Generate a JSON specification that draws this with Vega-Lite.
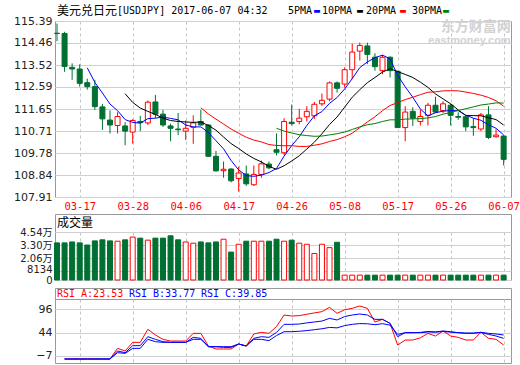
{
"$schema": "https://vega.github.io/schema/vega-lite/v6.json",
"background": "white",
"padding": {"left": 13, "top": 0, "right": 0, "bottom": 0},
"bounds": "flush",
"spacing": 0,
"resolve": {"scale": {"x": "shared"}},
"config": {
  "font": "DejaVu Sans",
  "view": {"stroke": "#999999"},
  "axis": {"labelFont": "DejaVu Sans", "labelFontSize": 11, "labelColor": "#222222", "ticks": false, "domain": false, "labelOverlap": false},
  "text": {"align": "left", "baseline": "middle", "font": "DejaVu Sans Mono", "fontSize": 10}
},
"datasets": {
"k": [
{"d":"03-14","o":114.87,"h":115.28,"l":114.53,"c":114.86,"dir":"down","v":35100},
{"d":"03-15","o":114.86,"h":114.93,"l":113.23,"c":113.46,"dir":"down","v":35100,"ra":-13.7,"rb":-13.7,"rc":-13.7},
{"d":"03-16","o":113.42,"h":113.59,"l":112.89,"c":113.35,"dir":"down","v":36000,"ra":-13.7,"rb":-13.7,"rc":-13.7},
{"d":"03-17","o":113.35,"h":113.55,"l":112.60,"c":112.74,"dir":"down","v":35100,"ra":-13.7,"rb":-13.7,"rc":-13.7},
{"d":"03-20","o":112.77,"h":112.94,"l":112.47,"c":112.60,"dir":"down","v":33100,"m5":113.40,"ra":-13.7,"rb":-13.7,"rc":-13.7},
{"d":"03-21","o":112.60,"h":112.89,"l":111.61,"c":111.75,"dir":"down","v":37000,"m5":112.78,"ra":-13.7,"rb":-13.7,"rc":-13.7},
{"d":"03-22","o":111.74,"h":111.87,"l":110.76,"c":111.23,"dir":"down","v":38000,"m5":112.33,"ra":-13.7,"rb":-13.7,"rc":-13.7},
{"d":"03-23","o":111.18,"h":111.59,"l":110.61,"c":110.97,"dir":"down","v":37000,"m5":111.86,"ra":-13.7,"rb":-13.7,"rc":-13.7},
{"d":"03-24","o":110.95,"h":111.51,"l":110.61,"c":111.33,"dir":"up","v":36700,"m5":111.58,"ra":9.8,"rb":4,"rc":0.3},
{"d":"03-27","o":110.93,"h":111.09,"l":110.11,"c":110.71,"dir":"down","v":38000,"m5":111.20,"m10":112.30,"ra":4,"rb":0.3,"rc":-1.2},
{"d":"03-28","o":110.67,"h":111.22,"l":110.18,"c":111.16,"dir":"up","v":40600,"m5":111.08,"m10":111.93,"ra":23.1,"rb":15.7,"rc":9.8},
{"d":"03-29","o":111.12,"h":111.36,"l":110.71,"c":111.07,"dir":"down","v":39600,"m5":111.05,"m10":111.69,"ra":23.1,"rb":15.7,"rc":9.8},
{"d":"03-30","o":111.06,"h":112.01,"l":110.97,"c":111.94,"dir":"up","v":37700,"m5":111.24,"m10":111.55,"ra":51.8,"rb":35.6,"rc":29.7},
{"d":"03-31","o":111.95,"h":112.25,"l":111.26,"c":111.43,"dir":"down","v":39600,"m5":111.26,"m10":111.42,"ra":39.3,"rb":29.7,"rc":24.5},
{"d":"04-03","o":111.43,"h":111.61,"l":110.89,"c":110.97,"dir":"down","v":39600,"m5":111.31,"m10":111.26,"ra":29.7,"rb":24.5,"rc":23.1},
{"d":"04-04","o":110.93,"h":111.03,"l":110.28,"c":110.83,"dir":"down","v":41800,"m5":111.25,"m10":111.16,"ra":26,"rb":23.1,"rc":23.1},
{"d":"04-05","o":110.80,"h":111.48,"l":110.54,"c":110.77,"dir":"down","v":38000,"m5":111.19,"m10":111.12,"ra":26,"rb":23.1,"rc":23.1},
{"d":"04-06","o":110.71,"h":111.16,"l":110.33,"c":110.83,"dir":"up","v":36000,"m5":110.97,"m10":111.10,"ra":26,"rb":23.1,"rc":23.1},
{"d":"04-07","o":110.87,"h":111.38,"l":110.17,"c":111.06,"dir":"up","v":34800,"m5":110.89,"m10":111.08,"ra":42.9,"rb":34.1,"rc":29.7},
{"d":"04-10","o":111.12,"h":111.61,"l":110.95,"c":110.97,"dir":"down","v":36000,"m5":110.89,"m10":111.10,"m20":111.70,"ra":42.9,"rb":31.9,"rc":29.7},
{"d":"04-11","o":110.97,"h":111.00,"l":109.61,"c":109.64,"dir":"down","v":35100,"m5":110.65,"m10":110.95,"m20":111.44,"ra":15,"rb":13.5,"rc":13.5},
{"d":"04-12","o":109.64,"h":109.87,"l":108.99,"c":109.02,"dir":"down","v":36000,"m5":110.30,"m10":110.75,"m20":111.22,"ra":8.4,"rb":13.5,"rc":13.5},
{"d":"04-13","o":109.03,"h":109.42,"l":108.73,"c":109.09,"dir":"up","v":38600,"m5":109.96,"m10":110.46,"m20":111.01,"ra":8.4,"rb":13.5,"rc":12},
{"d":"04-14","o":109.10,"h":109.13,"l":108.53,"c":108.60,"dir":"down","v":26400,"m5":109.46,"m10":110.18,"m20":110.80,"ra":8.4,"rb":13.5,"rc":12},
{"d":"04-17","o":108.70,"h":109.20,"l":108.14,"c":108.93,"dir":"up","v":33800,"m5":109.06,"m10":109.97,"m20":110.62,"ra":19.4,"rb":19.4,"rc":19.4},
{"d":"04-18","o":108.89,"h":109.25,"l":108.38,"c":108.47,"dir":"down","v":36700,"m5":108.82,"m10":109.74,"m20":110.45,"ra":15,"rb":15,"rc":15},
{"d":"04-19","o":108.43,"h":109.25,"l":108.38,"c":108.87,"dir":"up","v":36700,"m5":108.79,"m10":109.55,"m20":110.33,"ra":41.5,"rb":31.9,"rc":29.7},
{"d":"04-20","o":108.87,"h":109.46,"l":108.73,"c":109.32,"dir":"up","v":36700,"m5":108.84,"m10":109.40,"m20":110.25,"ra":45.2,"rb":35.6,"rc":29.7},
{"d":"04-21","o":109.31,"h":109.42,"l":109.09,"c":109.15,"dir":"down","v":36700,"m5":108.95,"m10":109.21,"m20":110.14,"ra":42.9,"rb":34.1,"rc":26.8},
{"d":"04-24","o":109.92,"h":110.61,"l":109.68,"c":109.81,"dir":"down","v":38600,"m5":109.12,"m10":109.09,"m20":110.10,"m30":110.83,"ra":58,"rb":45,"rc":38},
{"d":"04-25","o":109.79,"h":111.26,"l":109.68,"c":111.12,"dir":"up","v":36700,"m5":109.65,"m10":109.24,"m20":110.09,"m30":110.71,"ra":83.4,"rb":62.8,"rc":46.6},
{"d":"04-26","o":111.09,"h":111.84,"l":110.95,"c":111.03,"dir":"down","v":37700,"m5":110.09,"m10":109.44,"m20":110.09,"m30":110.63,"ra":81.2,"rb":62.8,"rc":46.6},
{"d":"04-27","o":111.12,"h":111.66,"l":111.00,"c":111.26,"dir":"up","v":34800,"m5":110.47,"m10":109.66,"m20":110.06,"m30":110.56,"ra":82,"rb":63.5,"rc":47.5},
{"d":"04-28","o":111.32,"h":111.77,"l":111.12,"c":111.55,"dir":"up","v":33800,"m5":110.95,"m10":109.95,"m20":110.06,"m30":110.52,"ra":85,"rb":66,"rc":49},
{"d":"05-02","o":111.36,"h":111.95,"l":111.23,"c":111.85,"dir":"up","v":25100,"m5":111.36,"m10":110.24,"m20":110.11,"m30":110.49,"ra":88,"rb":68,"rc":51},
{"d":"05-03","o":111.87,"h":112.31,"l":111.78,"c":112.02,"dir":"up","v":33800,"m5":111.54,"m10":110.60,"m20":110.17,"m30":110.50,"ra":90.8,"rb":70,"rc":53},
{"d":"05-04","o":112.07,"h":112.82,"l":111.98,"c":112.76,"dir":"up","v":30600,"m5":111.89,"m10":110.99,"m20":110.27,"m30":110.55,"ra":100.3,"rb":76,"rc":56},
{"d":"05-05","o":112.76,"h":112.82,"l":112.35,"c":112.53,"dir":"down","v":35700,"m5":112.14,"m10":111.31,"m20":110.35,"m30":110.60,"ra":87.1,"rb":72.4,"rc":55},
{"d":"05-08","o":112.71,"h":113.42,"l":112.56,"c":113.32,"dir":"up","v":4600,"m5":112.50,"m10":111.73,"m20":110.47,"m30":110.67,"ra":95,"rb":80,"rc":60},
{"d":"05-09","o":113.32,"h":114.43,"l":112.92,"c":114.07,"dir":"up","v":4600,"m5":112.94,"m10":112.15,"m20":110.62,"m30":110.78,"ra":98.1,"rb":83.4,"rc":62.8},
{"d":"05-10","o":114.11,"h":114.47,"l":113.71,"c":114.35,"dir":"up","v":4600,"m5":113.41,"m10":112.47,"m20":110.86,"m30":110.89,"ra":103.3,"rb":85.6,"rc":64.5},
{"d":"05-11","o":114.33,"h":114.47,"l":113.56,"c":113.97,"dir":"down","v":4600,"m5":113.65,"m10":112.77,"m20":111.10,"m30":110.98,"ra":98,"rb":83.4,"rc":64},
{"d":"05-12","o":113.85,"h":114.02,"l":113.28,"c":113.45,"dir":"down","v":4600,"m5":113.83,"m10":112.99,"m20":111.32,"m30":111.03,"ra":68,"rb":73.8,"rc":62},
{"d":"05-15","o":113.28,"h":113.95,"l":113.13,"c":113.85,"dir":"up","v":4600,"m5":113.94,"m10":113.22,"m20":111.58,"m30":111.12,"ra":73.8,"rb":73.8,"rc":64.3},
{"d":"05-16","o":113.85,"h":113.89,"l":112.99,"c":113.28,"dir":"down","v":4600,"m5":113.78,"m10":113.36,"m20":111.80,"m30":111.19,"ra":65,"rb":65,"rc":61},
{"d":"05-17","o":113.25,"h":113.28,"l":110.84,"c":110.86,"dir":"down","v":4600,"m5":113.08,"m10":113.24,"m20":111.92,"m30":111.19,"ra":17.1,"rb":35.6,"rc":40.7},
{"d":"05-18","o":110.86,"h":111.77,"l":110.28,"c":111.52,"dir":"up","v":4600,"m5":112.59,"m10":113.12,"m20":112.05,"m30":111.22,"ra":28.2,"rb":44.4,"rc":44.4},
{"d":"05-19","o":111.55,"h":111.72,"l":110.93,"c":111.26,"dir":"down","v":4600,"m5":112.15,"m10":112.99,"m20":112.15,"m30":111.23,"ra":28.2,"rb":44.4,"rc":44.4},
{"d":"05-22","o":111.12,"h":111.62,"l":110.95,"c":111.33,"dir":"up","v":4600,"m5":111.65,"m10":112.79,"m20":112.26,"m30":111.24,"ra":33,"rb":45,"rc":44.4},
{"d":"05-23","o":111.38,"h":111.91,"l":110.95,"c":111.81,"dir":"up","v":4600,"m5":111.36,"m10":112.57,"m20":112.36,"m30":111.27,"ra":42.9,"rb":47,"rc":46},
{"d":"05-24","o":111.81,"h":112.17,"l":111.48,"c":111.52,"dir":"down","v":4600,"m5":111.49,"m10":112.29,"m20":112.38,"m30":111.33,"ra":37,"rb":46,"rc":45.5},
{"d":"05-25","o":111.58,"h":111.98,"l":111.48,"c":111.87,"dir":"up","v":4600,"m5":111.56,"m10":112.08,"m20":112.42,"m30":111.43,"ra":48.1,"rb":48.1,"rc":47},
{"d":"05-26","o":111.81,"h":111.87,"l":110.95,"c":111.38,"dir":"down","v":4600,"m5":111.58,"m10":111.87,"m20":112.43,"m30":111.50,"ra":37,"rb":46.6,"rc":45.5},
{"d":"05-30","o":111.33,"h":111.51,"l":111.19,"c":111.30,"dir":"down","v":4600,"m5":111.58,"m10":111.61,"m20":112.42,"m30":111.59,"ra":34.1,"rb":44.4,"rc":44.4},
{"d":"05-31","o":111.32,"h":111.36,"l":110.71,"c":110.89,"dir":"down","v":4600,"m5":111.39,"m10":111.37,"m20":112.37,"m30":111.66,"ra":28.2,"rb":43,"rc":43.5},
{"d":"06-01","o":110.90,"h":111.26,"l":110.51,"c":110.86,"dir":"down","v":4600,"m5":111.26,"m10":111.37,"m20":112.31,"m30":111.74,"ra":28.2,"rb":43,"rc":43.5},
{"d":"06-02","o":110.80,"h":111.48,"l":110.71,"c":111.40,"dir":"up","v":4600,"m5":111.17,"m10":111.36,"m20":112.24,"m30":111.82,"ra":45.2,"rb":45.2,"rc":45.2},
{"d":"06-05","o":111.40,"h":111.77,"l":110.37,"c":110.44,"dir":"down","v":4600,"m5":110.98,"m10":111.28,"m20":112.14,"m30":111.86,"ra":31.9,"rb":40.7,"rc":42.9},
{"d":"06-06","o":110.47,"h":110.79,"l":110.43,"c":110.54,"dir":"up","v":4600,"m5":110.83,"m10":111.20,"m20":112.00,"m30":111.91,"ra":29.7,"rb":37,"rc":41.5},
{"d":"06-07","o":110.50,"h":110.54,"l":109.25,"c":109.51,"dir":"down","v":4600,"m5":110.55,"m10":110.97,"m20":111.77,"m30":111.90,"ra":17.1,"rb":31.9,"rc":39.3}
]
},
"vconcat": [
{
  "width": 456, "height": 21, "view": {"stroke": null},
  "data": {"values": [{"d": "03-14"}]},
  "encoding": {"x": {"field": "d", "type": "ordinal", "scale": {"type": "point", "padding": 0.619, "align": 0.2134}, "axis": null}},
  "layer": [
    {"mark": {"type": "text", "font": "Noto Sans CJK SC", "fontSize": 12, "color": "#000000"}, "encoding": {"text": {"value": "美元兑日元"}}},
    {"mark": {"type": "text", "dx": 60, "color": "#000000"}, "encoding": {"text": {"value": "[USDJPY] 2017-06-07 04:32"}}},
    {"mark": {"type": "text", "dx": 231, "color": "#000000"}, "encoding": {"text": {"value": "5PMA"}}},
    {"mark": {"type": "text", "dx": 257, "color": "#0000ff"}, "encoding": {"text": {"value": "▬"}}},
    {"mark": {"type": "text", "dx": 265, "color": "#000000"}, "encoding": {"text": {"value": "10PMA"}}},
    {"mark": {"type": "text", "dx": 300, "color": "#000000"}, "encoding": {"text": {"value": "▬"}}},
    {"mark": {"type": "text", "dx": 309, "color": "#000000"}, "encoding": {"text": {"value": "20PMA"}}},
    {"mark": {"type": "text", "dx": 343, "color": "#ff0000"}, "encoding": {"text": {"value": "▬"}}},
    {"mark": {"type": "text", "dx": 355, "color": "#000000"}, "encoding": {"text": {"value": "30PMA"}}},
    {"mark": {"type": "text", "dx": 386, "color": "#008000"}, "encoding": {"text": {"value": "▬"}}}
  ]
},
{
  "width": 456, "height": 176,
  "data": {"name": "k"},
  "encoding": {"x": {"field": "d", "type": "ordinal", "scale": {"type": "point", "padding": 0.619, "align": 0.2134},
     "axis": {"values": ["03-17","03-28","04-06","04-17","04-26","05-08","05-17","05-26","06-07"], "title": null, "labelColor": "#ff0000", "labelFont": "DejaVu Sans Mono", "labelFontSize": 10.5, "labelPadding": 4, "labelAngle": 0, "labelOverlap": false, "grid": true, "gridDash": [3, 3], "gridColor": "#c4c4c4"}}},
  "layer": [
    {"mark": {"type": "rule", "strokeWidth": 1},
     "encoding": {
       "y": {"field": "l", "type": "quantitative", "title": null, "scale": {"domain": [107.91, 115.39], "nice": false, "zero": false},
             "axis": {"values": [107.91, 108.84, 109.78, 110.71, 111.65, 112.59, 113.52, 114.46, 115.39], "tickCount": 9, "format": ".2f", "title": null, "labelPadding": 3, "labelOverlap": false, "grid": true, "gridColor": "#d0d0d0"}},
       "y2": {"field": "h"},
       "stroke": {"field": "dir", "type": "nominal", "scale": {"domain": ["up", "down"], "range": ["#ff0000", "#007032"]}, "legend": null}}},
    {"data": {"values": [{"d": "06-07", "p": 115.13, "t": "东方财富网"}]},
     "mark": {"type": "text", "align": "right", "dx": 7, "font": "Noto Sans CJK SC", "fontSize": 14, "fontWeight": "bold", "color": "#d2d2d2"},
     "encoding": {"y": {"field": "p", "type": "quantitative", "title": null}, "text": {"field": "t"}}},
    {"data": {"values": [{"d": "06-07", "p": 114.53, "t": "eastmoney.com"}]},
     "mark": {"type": "text", "align": "right", "dx": 7, "font": "Liberation Sans", "fontSize": 11, "fontWeight": "bold", "color": "#d2d2d2"},
     "encoding": {"y": {"field": "p", "type": "quantitative", "title": null}, "text": {"field": "t"}}},
    {"mark": {"type": "bar", "size": 5, "strokeWidth": 1},
     "encoding": {
       "y": {"field": "o", "type": "quantitative", "title": null},
       "y2": {"field": "c"},
       "stroke": {"field": "dir", "type": "nominal", "legend": null},
       "fill": {"field": "dir", "type": "nominal", "scale": {"domain": ["up", "down"], "range": ["#ffffff", "#007032"]}, "legend": null}}},
    {"mark": {"type": "line", "color": "#0000ff", "strokeWidth": 1}, "encoding": {"y": {"field": "m5", "type": "quantitative", "title": null}}},
    {"mark": {"type": "line", "color": "#000000", "strokeWidth": 1}, "encoding": {"y": {"field": "m10", "type": "quantitative", "title": null}}},
    {"mark": {"type": "line", "color": "#ff0000", "strokeWidth": 1}, "encoding": {"y": {"field": "m20", "type": "quantitative", "title": null}}},
    {"mark": {"type": "line", "color": "#008000", "strokeWidth": 1}, "encoding": {"y": {"field": "m30", "type": "quantitative", "title": null}}}
  ]
},
{
  "width": 456, "height": 17, "view": {"stroke": null},
  "data": {"values": [{"t": ""}]},
  "mark": "text",
  "encoding": {"text": {"field": "t"}}
},
{
  "width": 456, "height": 18,
  "data": {"values": [{"d": "03-14", "t": "成交量"}]},
  "mark": {"type": "text", "font": "Noto Sans CJK SC", "fontSize": 12, "color": "#000000"},
  "encoding": {
    "x": {"field": "d", "type": "ordinal", "scale": {"type": "point", "padding": 0.619, "align": 0.2134}, "axis": null},
    "text": {"field": "t"}}
},
{
  "width": 456, "height": 48,
  "data": {"name": "k"},
  "mark": {"type": "bar", "size": 5, "strokeWidth": 1},
  "encoding": {
    "x": {"field": "d", "type": "ordinal", "scale": {"type": "point", "padding": 0.619, "align": 0.2134},
       "axis": {"values": ["03-17","03-28","04-06","04-17","04-26","05-08","05-17","05-26","06-07"], "title": null, "labels": false, "grid": true, "gridDash": [3, 3], "gridColor": "#c4c4c4"}},
    "y": {"field": "v", "type": "quantitative", "title": null, "scale": {"domain": [0, 45400], "nice": false},
       "axis": {"values": [0, 8134, 20600, 33000, 45400], "tickCount": 5, "title": null, "labelPadding": 3, "labelFontSize": 10, "labelFont": "DejaVu Sans, Noto Sans CJK SC", "labelOverlap": false, "grid": true, "gridColor": "#d0d0d0",
                "labelOffset": {"condition": {"test": "datum.value == 8134", "value": -2}, "value": 0},
                "labelExpr": "datum.value == 0 ? '0' : (datum.value < 10000 ? format(datum.value, 'd') : format(datum.value / 10000, '.2f') + '万')"}},
    "stroke": {"field": "dir", "type": "nominal", "scale": {"domain": ["up", "down"], "range": ["#ff0000", "#007032"]}, "legend": null},
    "fill": {"field": "dir", "type": "nominal", "scale": {"domain": ["up", "down"], "range": ["#ffffff", "#007032"]}, "legend": null}
  }
},
{
  "width": 456, "height": 8, "view": {"stroke": null},
  "data": {"values": [{"t": ""}]},
  "mark": "text",
  "encoding": {"text": {"field": "t"}}
},
{
  "width": 456, "height": 11,
  "data": {"values": [{"d": "03-14"}]},
  "encoding": {"x": {"field": "d", "type": "ordinal", "scale": {"type": "point", "padding": 0.619, "align": 0.2134}, "axis": null}},
  "layer": [
    {"mark": {"type": "text", "color": "#ff0000"}, "encoding": {"text": {"value": "RSI_A:23.53"}}},
    {"mark": {"type": "text", "dx": 72, "color": "#0000ff"}, "encoding": {"text": {"value": "RSI_B:33.77"}}},
    {"mark": {"type": "text", "dx": 144, "color": "#0000ff"}, "encoding": {"text": {"value": "RSI_C:39.85"}}}
  ]
},
{
  "width": 456, "height": 64,
  "data": {"name": "k"},
  "encoding": {"x": {"field": "d", "type": "ordinal", "scale": {"type": "point", "padding": 0.619, "align": 0.2134},
       "axis": {"values": ["03-17","03-28","04-06","04-17","04-26","05-08","05-17","05-26","06-07"], "title": null, "labels": false, "grid": true, "gridDash": [3, 3], "gridColor": "#c4c4c4"}}},
  "layer": [
    {"mark": {"type": "line", "color": "#ff0000", "strokeWidth": 1},
     "encoding": {"y": {"field": "ra", "type": "quantitative", "title": null, "scale": {"domain": [-22.5, 118.7], "nice": false, "zero": false},
        "axis": {"values": [-7, 44, 96], "tickCount": 3, "title": null, "labelPadding": 3, "labelOverlap": false, "grid": true, "gridColor": "#d0d0d0"}}}},
    {"mark": {"type": "line", "color": "#0000ff", "strokeWidth": 1}, "encoding": {"y": {"field": "rc", "type": "quantitative", "title": null}}},
    {"mark": {"type": "line", "color": "#0000ff", "strokeWidth": 1}, "encoding": {"y": {"field": "rb", "type": "quantitative", "title": null}}}
  ]
}
]
}
